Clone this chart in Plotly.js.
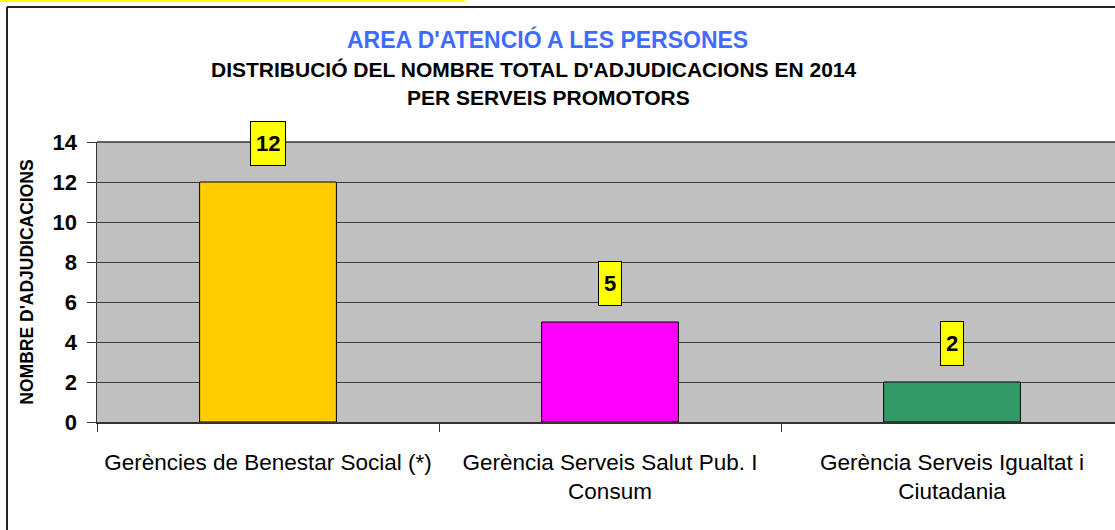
<!DOCTYPE html>
<html>
<head>
<meta charset="utf-8">
<script src="https://cdn.plot.ly/plotly-3.0.1.min.js"></script>
<style>
  html, body { margin: 0; padding: 0; background: #ffffff; }
  #chart { width: 1115px; height: 530px; }
</style>
</head>
<body>
<div id="chart"></div>
<script>
// ---- Data ----
const categories = [
  "Gerències de Benestar Social (*)",
  "Gerència Serveis Salut Pub. I Consum",
  "Gerència Serveis Igualtat i Ciutadania"
];
const tickLabels = [
  "Gerències de Benestar Social (*)",
  "Gerència Serveis Salut Pub. I<br>Consum",
  "Gerència Serveis Igualtat i<br>Ciutadania"
];
const values = [12, 5, 2];
const barColors = ["#FFCC00", "#FF00FF", "#339966"];
const yTickVals = [0, 2, 4, 6, 8, 10, 12, 14];

const titleLine1 = "AREA D'ATENCIÓ A LES PERSONES";
const titleLine2 = "DISTRIBUCIÓ DEL NOMBRE TOTAL D'ADJUDICACIONS EN 2014";
const titleLine3 = "PER SERVEIS PROMOTORS";
const yTitle = "NOMBRE D'ADJUDICACIONS";

// ---- Layout geometry ----
const W = 1115, H = 530;
const M = { l: 97, r: 0, t: 142, b: 108 };
const plotW = W - M.l - M.r, plotH = H - M.t - M.b;
const px = x => (x - M.l) / plotW;
const py = y => (H - M.b - y) / plotH;
const FONT = "Liberation Sans, Arial, Helvetica, sans-serif";

const trace = {
  type: "bar",
  x: categories,
  y: values,
  width: 0.4,
  marker: { color: barColors, line: { color: "#000000", width: 1 } },
  hoverinfo: "x+y"
};

const labelAnnotations = values.map((v, i) => ({
  x: categories[i], y: v, xref: "x", yref: "y",
  text: String(v), showarrow: false,
  yanchor: "bottom", yshift: 16,
  bgcolor: "#FFFF00", bordercolor: "#000000", borderwidth: 1, borderpad: 5,
  height: 33,
  font: { family: FONT, size: 22, color: "#000000", weight: "bold" }
}));

const titleAnnotations = [
  { text: titleLine1, x: px(547), y: py(39), size: 23, color: "#3F6BFF" },
  { text: titleLine2, x: px(534), y: py(69), size: 21, color: "#000000" },
  { text: titleLine3, x: px(548), y: py(98), size: 21, color: "#000000" }
].map(a => ({
  text: a.text, x: a.x, y: a.y, xref: "paper", yref: "paper",
  xanchor: "center", yanchor: "middle", showarrow: false,
  font: { family: FONT, size: a.size, color: a.color, weight: "bold" }
}));

const shapes = [
  // yellow strip at top-left
  { type: "rect", xref: "paper", yref: "paper", x0: px(0), x1: px(465), y0: py(0), y1: py(2),
    fillcolor: "#FFFF00", line: { width: 0 }, layer: "above" },
  // outer frame top and left
  { type: "line", xref: "paper", yref: "paper", x0: px(7), x1: px(1115), y0: py(7), y1: py(7),
    line: { color: "#222222", width: 2 }, layer: "above" },
  { type: "line", xref: "paper", yref: "paper", x0: px(7), x1: px(7), y0: py(7), y1: py(530),
    line: { color: "#222222", width: 2 }, layer: "above" },
  // plot top border
  { type: "line", xref: "paper", yref: "paper", x0: 0, x1: 1, y0: 1, y1: 1,
    line: { color: "#333333", width: 1.5 }, layer: "above" }
];

const layout = {
  width: W, height: H,
  margin: M,
  paper_bgcolor: "#FFFFFF",
  plot_bgcolor: "#C0C0C0",
  showlegend: false,
  font: { family: FONT, color: "#000000" },
  xaxis: {
    type: "category",
    range: [-0.5, 2.5 - 8 / 342],
    tickvals: categories,
    ticktext: tickLabels,
    tickson: "boundaries",
    ticks: "outside", ticklen: 8, tickcolor: "#333333", tickwidth: 1,
    showgrid: false,
    showline: true, linecolor: "#333333", linewidth: 1.5,
    tickfont: { family: FONT, size: 22.5, color: "#000000" },
    ticklabelstandoff: 19,
    automargin: false,
    fixedrange: true
  },
  yaxis: {
    range: [0, 14],
    tickvals: yTickVals,
    ticks: "outside", ticklen: 9, tickcolor: "#333333", tickwidth: 1,
    showgrid: true, gridcolor: "#3A3A3A", gridwidth: 1,
    zeroline: false,
    showline: true, linecolor: "#333333", linewidth: 1.5,
    tickfont: { family: FONT, size: 22, color: "#000000", weight: "bold" },
    ticklabelstandoff: 5,
    title: { text: yTitle, font: { family: FONT, size: 17.5, color: "#000000", weight: "bold" }, standoff: 14 },
    automargin: false,
    fixedrange: true
  },
  annotations: titleAnnotations.concat(labelAnnotations),
  shapes: shapes
};

Plotly.newPlot("chart", [trace], layout, { displayModeBar: false, staticPlot: true });
</script>
</body>
</html>
